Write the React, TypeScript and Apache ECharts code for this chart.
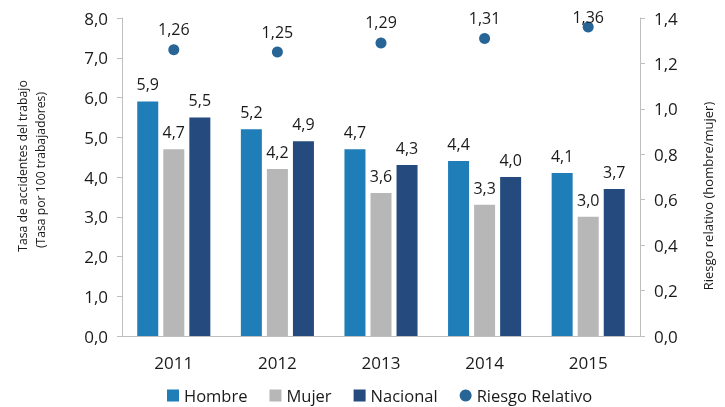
import React, { useEffect, useRef } from "react";
import * as echarts from "echarts";

const years = ["2011", "2012", "2013", "2014", "2015"];
const hombre = [5.9, 5.2, 4.7, 4.4, 4.1];
const mujer = [4.7, 4.2, 3.6, 3.3, 3.0];
const nacional = [5.5, 4.9, 4.3, 4.0, 3.7];
const riesgo = [1.26, 1.25, 1.29, 1.31, 1.36];

const leftName1 = "Tasa de accidentes del trabajo";
const leftName2 = "(Tasa por 100 trabajadores)";
const rightName = "Riesgo relativo (hombre/mujer)";

const FONT = "Open Sans";
const TXT = "#1a1a1a";
const fmt1 = (v: number) => v.toFixed(1).replace(".", ",");
const fmt2 = (v: number) => v.toFixed(2).replace(".", ",");

export default function App() {
  const ref = useRef<HTMLDivElement>(null);
  useEffect(() => {
    const chart = echarts.init(ref.current!, null, { renderer: "svg" });
    const barLabel = {
      show: true,
      position: "top",
      distance: 9,
      color: TXT,
      fontSize: 16,
      fontFamily: FONT,
      formatter: (p: any) => fmt1(p.value),
    };
    const vText = (text: string, x: number, y: number, size: number) => ({
      type: "text",
      x,
      y,
      rotation: Math.PI / 2,
      style: {
        text,
        fontSize: size,
        fontFamily: FONT,
        fill: TXT,
        align: "center",
        verticalAlign: "middle",
      },
    });
    chart.setOption({
      animation: false,
      textStyle: { fontFamily: FONT },
      grid: { left: 122, right: 85, top: 18, bottom: 71 },
      graphic: [
        vText(leftName1, 22, 166, 12.2),
        vText(leftName2, 40, 170, 12.2),
        vText(rightName, 708, 196, 13),
      ],
      legend: {
        top: 382,
        left: 162,
        itemWidth: 12,
        itemHeight: 12,
        itemGap: 22,
        textStyle: { fontSize: 16.5, color: TXT, fontFamily: FONT },
        data: [
          { name: "Hombre", icon: "rect" },
          { name: "Mujer", icon: "rect" },
          { name: "Nacional", icon: "rect" },
          { name: "Riesgo Relativo", icon: "circle" },
        ],
      },
      xAxis: {
        type: "category",
        data: years,
        axisLine: { lineStyle: { color: "#BFBFBF" } },
        axisTick: { show: false },
        axisLabel: { fontSize: 17, color: TXT, margin: 18, fontFamily: FONT },
      },
      yAxis: [
        {
          type: "value",
          min: 0,
          max: 8,
          interval: 1,
          axisLine: { show: true, lineStyle: { color: "#BFBFBF" } },
          axisTick: { show: true, length: 5, lineStyle: { color: "#BFBFBF" } },
          splitLine: { show: false },
          axisLabel: { fontSize: 17, color: TXT, margin: 14, formatter: (v: number) => fmt1(v), fontFamily: FONT },
        },
        {
          type: "value",
          min: 0,
          max: 1.4,
          interval: 0.2,
          axisLine: { show: true, lineStyle: { color: "#BFBFBF" } },
          axisTick: { show: true, length: 5, lineStyle: { color: "#BFBFBF" } },
          splitLine: { show: false },
          axisLabel: { fontSize: 17, color: TXT, margin: 14, formatter: (v: number) => fmt1(v), fontFamily: FONT },
        },
      ],
      series: [
        {
          name: "Hombre",
          type: "bar",
          data: hombre,
          barWidth: 21,
          barGap: "24%",
          itemStyle: { color: "#1F7DB8" },
          label: barLabel,
        },
        {
          name: "Mujer",
          type: "bar",
          data: mujer,
          barWidth: 21,
          barGap: "24%",
          itemStyle: { color: "#B7B7B7" },
          label: barLabel,
        },
        {
          name: "Nacional",
          type: "bar",
          data: nacional,
          barWidth: 21,
          barGap: "24%",
          itemStyle: { color: "#244A7E" },
          label: barLabel,
        },
        {
          name: "Riesgo Relativo",
          type: "scatter",
          yAxisIndex: 1,
          data: riesgo.map((v, i) =>
            i === riesgo.length - 1 ? { value: v, label: { offset: [0, 10] } } : v
          ),
          symbol: "circle",
          symbolSize: 11,
          itemStyle: { color: "#276597", opacity: 1 },
          label: {
            show: true,
            position: "top",
            distance: 7,
            color: TXT,
            fontSize: 16,
            fontFamily: FONT,
            formatter: (p: any) => fmt2(p.value),
          },
        },
      ],
    });
    return () => chart.dispose();
  }, []);
  return (
    <div
      ref={ref}
      style={{ position: "fixed", top: 0, left: 0, width: 725, height: 407 }}
    />
  );
}
